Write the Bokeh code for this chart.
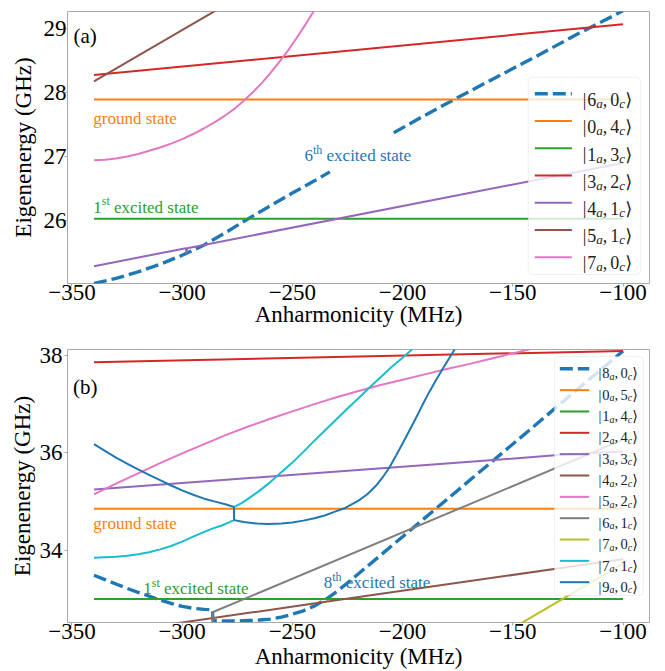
import math
from bokeh.plotting import figure
from bokeh.layouts import column
from bokeh.models import FixedTicker, BoxAnnotation, Range1d
from bokeh.core.properties import value
from bokeh.embed import file_html
from bokeh.resources import INLINE

NAN = float("nan")

# ---------------- Panel (a) data (anharmonicity in MHz, energy in GHz) ----------------
a_x_6a0c = [-340, -330, -320, -310, -300, -290, -280, -270, -260, -250, -240, -233, NAN,
            -204, -190, -176, -160, -140, -120, -100]
a_y_6a0c = [25.02, 25.10, 25.20, 25.32, 25.46, 25.62, 25.82, 26.03, 26.23, 26.43, 26.62, 26.76, NAN,
            27.37, 27.64, 27.90, 28.19, 28.55, 28.92, 29.27]
a_x_0a4c = [-340, -100]
a_y_0a4c = [27.89, 27.89]
a_x_1a3c = [-340, -100]
a_y_1a3c = [26.03, 26.03]
a_x_3a2c = [-340, -100]
a_y_3a2c = [28.27, 29.06]
a_x_4a1c = [-340, -298.3, -298.0, -297.7, -100]
a_y_4a1c = [25.29, 25.57, 25.49, 25.57, 26.90]
a_x_5a1c = [-340, -280]
a_y_5a1c = [28.17, 29.37]
a_x_7a0c = [-340, -335, -330, -325, -320, -315, -310, -305, -300, -295, -290, -285, -280,
            -276, -272, -268, -264, -260, -256, -252, -248, -244, -240]
a_y_7a0c = [26.94, 26.95, 26.97, 27.00, 27.04, 27.09, 27.14, 27.20, 27.27, 27.35, 27.44, 27.54, 27.65,
            27.75, 27.87, 28.00, 28.14, 28.30, 28.47, 28.65, 28.85, 29.06, 29.28]

# ---------------- Panel (b) data ----------------
b_x_8a0c = [-340, -335, -330, -325, -320, -315, -310, -305, -300, -295, -290, -286.2,
            -286.1, -280, -275, -270, -265, -260, -255, -250, -245, -240, -235, -230, -225,
            -220, -200, -180, -160, -140, -120, -100]
b_y_8a0c = [33.49, 33.40, 33.31, 33.22, 33.14, 33.06, 32.98, 32.91, 32.85, 32.81, 32.79, 32.78,
            32.56, 32.55, 32.55, 32.56, 32.57, 32.59, 32.63, 32.69, 32.76, 32.86, 32.99, 33.15, 33.33,
            33.52, 34.28, 35.04, 35.80, 36.56, 37.33, 38.09]
b_x_0a5c = [-340, -100]
b_y_0a5c = [34.855, 34.855]
b_x_1a4c = [-340, -100]
b_y_1a4c = [33.0, 33.0]
b_x_2a4c = [-340, -100]
b_y_2a4c = [37.86, 38.09]
b_x_3a3c = [-340, -280, -231, -180, -128, -100]
b_y_3a3c = [35.25, 35.45, 35.61, 35.78, 35.96, 36.03]
b_x_4a2c = [-340, -300, -231, -100]
b_y_4a2c = [32.26, 32.52, 32.97, 33.82]
b_x_5a2c = [-340, -330, -320, -310, -300, -290, -280, -270, -260, -250, -240, -230, -220,
            -210, -200, -190, -180, -170, -160, -150, -140]
b_y_5a2c = [35.15, 35.37, 35.58, 35.79, 35.99, 36.18, 36.37, 36.54, 36.70, 36.85, 37.00, 37.14, 37.27,
            37.39, 37.50, 37.61, 37.72, 37.82, 37.93, 38.04, 38.15]
b_x_6a1c = [-340, -286.3, -286.2, -100]
b_y_6a1c = [31.50, 32.30, 32.73, 36.27]
b_x_7a0c = [-160, -100]
b_y_7a0c = [32.14, 33.73]
b_x_7a1c = [-340, -335, -330, -325, -320, -315, -310, -305, -300, -295, -290, -286, -282, -279,
            -276.5, -276.4, -273, -270, -265, -260, -255, -250, -245, -240, -235, -230, -225, -220,
            -215, -210, -205, -200, -195]
b_y_7a1c = [33.85, 33.86, 33.87, 33.89, 33.92, 33.96, 34.02, 34.09, 34.18, 34.28, 34.38, 34.45, 34.51, 34.57,
            34.62, 34.89, 34.97, 35.06, 35.22, 35.40, 35.60, 35.80, 36.02, 36.25, 36.47, 36.69, 36.91, 37.12,
            37.34, 37.55, 37.76, 37.95, 38.15]
b_x_9a0c = [-340, -335, -330, -325, -320, -315, -310, -305, -300, -295, -290, -285, -280, -276.5,
            -276.4, -272, -266, -261, -255, -250, -245, -240, -235, -231, -226, -220, -216, -212,
            -209, -206, -203, -200, -197, -194, -191, -188, -185, -182, -179, -176]
b_y_9a0c = [36.18, 36.04, 35.90, 35.78, 35.66, 35.55, 35.44, 35.33, 35.23, 35.14, 35.06, 35.00, 34.94, 34.89,
            34.62, 34.58, 34.55, 34.54, 34.55, 34.57, 34.61, 34.66, 34.72, 34.79, 34.87, 35.02, 35.15, 35.33,
            35.50, 35.70, 35.94, 36.19, 36.45, 36.71, 36.98, 37.24, 37.48, 37.71, 37.93, 38.15]

x_ticks = [-350, -300, -250, -200, -150, -100]
a_y_ticks = [26, 27, 28, 29]
b_y_ticks = [34, 36, 38]

a_labels = [("6", "0"), ("0", "4"), ("1", "3"), ("3", "2"), ("4", "1"), ("5", "1"), ("7", "0")]
b_labels = [("8", "0"), ("0", "5"), ("1", "4"), ("2", "4"), ("3", "3"), ("4", "2"), ("5", "2"),
            ("6", "1"), ("7", "0"), ("7", "1"), ("9", "0")]

# ---------------- styling ----------------
C = ["#1f77b4", "#ff7f0e", "#2ca02c", "#d62728", "#9467bd", "#8c564b",
     "#e377c2", "#7f7f7f", "#bcbd22", "#17becf"]
SERIF = "Liberation Serif"
SYM = "DejaVu Sans"
SPINE = "#aaaaaa"
DASH = "13 5"
LW = 2.0
LW_D = 3.4

W = {' ': 0.25, 'a': 0.444, 'c': 0.444, 'd': 0.5, 'e': 0.444, 'g': 0.5, 'h': 0.5, 'i': 0.278,
     'n': 0.5, 'o': 0.5, 'r': 0.333, 's': 0.389, 't': 0.278, 'u': 0.5, 'x': 0.5, 'y': 0.5,
     '(': 0.333, ')': 0.333, ',': 0.25, '|': 0.2}


def tw(s):
    return sum(W.get(ch, 0.5) for ch in s)


def make_fig(height, left, right, top, bottom, xr, yr, yticks, ms_x, ms_y, als_x, als_y):
    p = figure(width=665, height=height, x_range=Range1d(*xr), y_range=Range1d(*yr),
               output_backend="svg", toolbar_location=None,
               min_border_left=left, min_border_right=right,
               min_border_top=top, min_border_bottom=bottom)
    p.grid.visible = False
    p.outline_line_color = SPINE
    p.outline_line_width = 1
    p.background_fill_color = "white"
    p.border_fill_color = "white"
    for ax, ticks in ((p.xaxis[0], x_ticks), (p.yaxis[0], yticks)):
        ax.ticker = FixedTicker(ticks=ticks)
        ax.minor_tick_line_color = None
        ax.axis_line_color = None
        ax.major_tick_line_color = SPINE
        ax.major_tick_out = 3
        ax.major_tick_in = 0
        ax.major_label_text_font = SERIF
        ax.major_label_text_font_size = "23px"
        ax.major_label_text_color = "black"
        ax.axis_label_text_font = SERIF
        ax.axis_label_text_font_size = "23px"
        ax.axis_label_text_font_style = "normal"
        ax.axis_label_text_color = "black"
    p.xaxis[0].major_label_overrides = {t: ("\u2212" + str(abs(t)) if t < 0 else str(t)) for t in x_ticks}
    p.xaxis[0].axis_label = "Anharmonicity (MHz)"
    p.yaxis[0].axis_label = "Eigenenergy (GHz)"
    p.xaxis[0].major_label_standoff = ms_x
    p.yaxis[0].major_label_standoff = ms_y
    p.xaxis[0].axis_label_standoff = als_x
    p.yaxis[0].axis_label_standoff = als_y
    return p


def converters(fl, fr, ft, fb, xr, yr):
    def cx(px):
        return xr[0] + (px - fl) / (fr - fl) * (xr[1] - xr[0])

    def cy(py):
        return yr[1] - (py - ft) / (fb - ft) * (yr[1] - yr[0])
    return cx, cy


def pieces(p, x, y, parts, color, level="glyph"):
    off = 0.0
    for s, fs, dy, style, font, wem in parts:
        p.text(x=[x], y=[y], text=[s], x_offset=off, y_offset=dy,
               text_font=value(font), text_font_size=f"{fs}px", text_font_style=style,
               text_color=color, text_align="left", text_baseline="alphabetic", level=level)
        off += wem * fs


def ordinal_label(p, x, y, num, sup, rest, color, fs=17):
    sfs = round(fs * 0.7)
    parts = [(num, fs, 0, "normal", SERIF, tw(num)),
             (sup, sfs, -6, "normal", SERIF, tw(sup) + 0.25 * fs / sfs),
             (rest, fs, 0, "normal", SERIF, tw(rest))]
    pieces(p, x, y, parts, color)


def ket(p, x, y, n, m, fs):
    sfs = round(fs * 0.7)
    parts = [("|", fs, 0, "normal", SERIF, 0.25),
             (n, fs, 0, "normal", SERIF, 0.5),
             ("a", sfs, round(fs * 0.2), "italic", SERIF, 0.5),
             (",", fs, 0, "normal", SERIF, 0.42),
             (m, fs, 0, "normal", SERIF, 0.5),
             ("c", sfs, round(fs * 0.2), "italic", SERIF, 0.46),
             ("\u27e9", fs, 0, "normal", SYM, 0.4)]
    pieces(p, x, y, parts, "#222222", level="overlay")


def legend(p, cx, cy, box, labels, styles, y0, dy, sx0, sx1, tx, fs):
    p.add_layout(BoxAnnotation(left=cx(box[0]), right=cx(box[2]), top=cy(box[1]), bottom=cy(box[3]),
                               fill_color="white", fill_alpha=0.8, line_color="#cccccc",
                               line_width=1, border_radius=4))
    for i, ((n, m), (col, dash, lw)) in enumerate(zip(labels, styles)):
        py = y0 + i * dy
        p.line([cx(sx0), cx(sx1)], [cy(py), cy(py)], line_color=col, line_width=lw,
               line_dash=dash, level="overlay")
        ket(p, cx(tx), cy(py + 0.32 * fs), n, m, fs)


# ================= Panel (a) =================
XR = (-352, -88)
A_YR = (25.02, 29.26)
pa = make_fig(330, 62, 16, 11, 47, XR, A_YR, a_y_ticks, -2, -2, -1, 5)
acx, acy = converters(62, 649, 11, 283, XR, A_YR)

a_series = [(a_x_6a0c, a_y_6a0c), (a_x_0a4c, a_y_0a4c), (a_x_1a3c, a_y_1a3c), (a_x_3a2c, a_y_3a2c),
            (a_x_4a1c, a_y_4a1c), (a_x_5a1c, a_y_5a1c), (a_x_7a0c, a_y_7a0c)]
a_styles = [(C[0], DASH, LW_D), (C[1], "solid", LW), (C[2], "solid", LW), (C[3], "solid", LW),
            (C[4], "solid", LW), (C[5], "solid", LW), (C[6], "solid", LW)]
for (xs, ys), (col, dash, lw) in zip(a_series, a_styles):
    pa.line(xs, ys, line_color=col, line_width=lw, line_dash=dash)

pieces(pa, acx(68), acy(35), [("(a)", 21, 0, "normal", SERIF, tw("(a)"))], "black")
pieces(pa, acx(88), acy(118), [("ground state", 17, 0, "normal", SERIF, 1)], C[1])
ordinal_label(pa, acx(88), acy(206.5), "1", "st", "excited state", C[2])
ordinal_label(pa, acx(301), acy(155), "6", "th", "excited state", C[0])

legend(pa, acx, acy, (526.7, 76.7, 640, 274), a_labels, a_styles,
       93.3, 27.23, 533.3, 570.7, 581.7, 18)

# ================= Panel (b) =================
B_YR = (32.52, 38.12)
pb = make_fig(341, 67, 12, 19, 49, XR, B_YR, b_y_ticks, -2, 2, 2, 2)
OFF = 330
bcx, bcy0 = converters(67, 653, 19, 292, XR, B_YR)


def bcy(py):
    return bcy0(py - OFF)


b_series = [(b_x_8a0c, b_y_8a0c), (b_x_0a5c, b_y_0a5c), (b_x_1a4c, b_y_1a4c), (b_x_2a4c, b_y_2a4c),
            (b_x_3a3c, b_y_3a3c), (b_x_4a2c, b_y_4a2c), (b_x_5a2c, b_y_5a2c), (b_x_6a1c, b_y_6a1c),
            (b_x_7a0c, b_y_7a0c), (b_x_7a1c, b_y_7a1c), (b_x_9a0c, b_y_9a0c)]
b_styles = [(C[0], DASH, LW_D)] + [(C[i], "solid", LW) for i in range(1, 10)] + [(C[0], "solid", LW)]
for (xs, ys), (col, dash, lw) in zip(b_series, b_styles):
    pb.line(xs, ys, line_color=col, line_width=lw, line_dash=dash)

pieces(pb, bcx(72.5), bcy(386.5), [("(b)", 21, 0, "normal", SERIF, tw("(b)"))], "black")
pieces(pb, bcx(93), bcy(523), [("ground state", 17, 0, "normal", SERIF, 1)], C[1])
ordinal_label(pb, bcx(143.3), bcy(588.3), "1", "st", "excited state", C[2])
ordinal_label(pb, bcx(325), bcy(582.3), "8", "th", "excited state", C[0])

legend(pb, bcx, bcy, (557.3, 356, 646.7, 595), b_labels, b_styles,
       368.3, 21.34, 562.7, 592.3, 601.7, 14.5)

layout = column(pa, pb, spacing=0)
open("out.html", "w").write(file_html(layout, INLINE))
